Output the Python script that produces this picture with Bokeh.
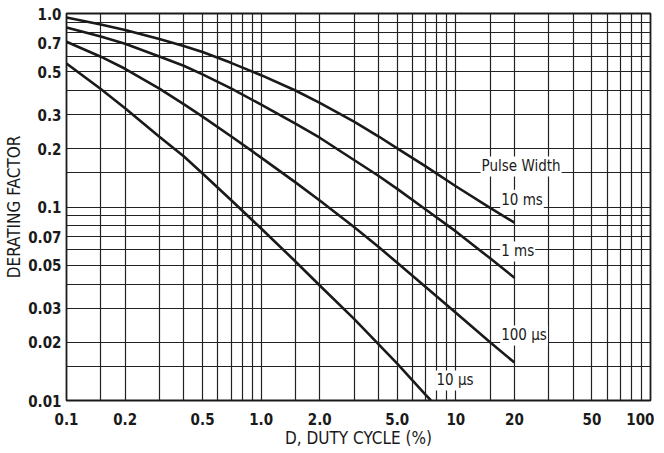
from bokeh.plotting import figure
from bokeh.models import FixedTicker, CustomJSTickFormatter, Label
from bokeh.embed import file_html
from bokeh.resources import INLINE

# ---- data ----
x_tick_values = [0.1, 0.2, 0.5, 1.0, 2.0, 5.0, 10, 20, 50, 100]
x_tick_labels = ["0.1", "0.2", "0.5", "1.0", "2.0", "5.0", "10", "20", "50", "100"]
y_tick_values = [1.0, 0.7, 0.5, 0.3, 0.2, 0.1, 0.07, 0.05, 0.03, 0.02, 0.01]
y_tick_labels = ["1.0", "0.7", "0.5", "0.3", "0.2", "0.1", "0.07", "0.05", "0.03", "0.02", "0.01"]
grid_mantissas = [1, 1.5, 2, 3, 4, 5, 6, 7, 8, 9]
x_decades = [0.1, 1, 10]
y_decades = [0.01, 0.1]

duty = [0.1, 0.15, 0.2, 0.3, 0.4, 0.5, 0.7, 1.0, 1.5, 2, 3, 4, 5, 7, 10, 15, 20]
y_10ms = [0.953, 0.878, 0.822, 0.738, 0.680, 0.632, 0.556, 0.480, 0.400, 0.345, 0.276, 0.232, 0.201, 0.162, 0.128, 0.099, 0.083]
y_1ms = [0.847, 0.760, 0.697, 0.600, 0.537, 0.485, 0.410, 0.338, 0.270, 0.228, 0.175, 0.145, 0.124, 0.097, 0.0748, 0.0543, 0.0431]
y_100us = [0.714, 0.598, 0.518, 0.409, 0.340, 0.293, 0.232, 0.180, 0.134, 0.108, 0.0788, 0.0623, 0.0515, 0.0386, 0.0284, 0.0200, 0.0157]

x_10us = [0.1, 0.15, 0.2, 0.3, 0.4, 0.5, 0.7, 1.0, 1.5, 2, 3, 5, 7, 7.45]
y_10us = [0.552, 0.407, 0.324, 0.231, 0.183, 0.149, 0.1086, 0.0774, 0.0523, 0.0393, 0.0264, 0.0155, 0.0107, 0.0100]

series = [(duty, y_10ms), (duty, y_1ms), (duty, y_100us), (x_10us, y_10us)]

label_texts = ["Pulse Width", "10 ms", "1 ms", "100 \u03bcs", "10 \u03bcs"]
label_x = [13.4, 16.9, 16.9, 16.9, 7.86]
label_y = [0.162, 0.109, 0.0589, 0.0217, 0.0127]

# ---- figure ----
FONT = "DejaVu Sans Condensed"
INK = "#1a1a1a"

p = figure(width=654, height=450, x_axis_type="log", y_axis_type="log",
           x_range=(0.1, 100), y_range=(0.01, 1.0),
           output_backend="svg", toolbar_location=None,
           min_border_left=66, min_border_right=4,
           min_border_top=13, min_border_bottom=50)
p.background_fill_color = "white"
p.border_fill_color = "white"
p.outline_line_color = INK
p.outline_line_width = 1.8

x_grid = [m * d for d in x_decades for m in grid_mantissas] + [100]
y_grid = [m * d for d in y_decades for m in grid_mantissas] + [1.0]

p.xgrid.ticker = FixedTicker(ticks=x_grid)
p.ygrid.ticker = FixedTicker(ticks=y_grid)
for g in (p.xgrid, p.ygrid):
    g.grid_line_color = "#222222"
    g.grid_line_width = 1.2
    g.grid_line_alpha = 1.0

fmt_code = """
let best = 0, bd = 1e9;
for (let i = 0; i < vals.length; i++) {
  const d = Math.abs(Math.log(vals[i]) - Math.log(tick));
  if (d < bd) { bd = d; best = i; }
}
return bd < 1e-6 ? labs[best] : "";
"""
p.xaxis.ticker = FixedTicker(ticks=x_tick_values, minor_ticks=[])
p.yaxis.ticker = FixedTicker(ticks=y_tick_values, minor_ticks=[])
p.xaxis.formatter = CustomJSTickFormatter(args=dict(vals=x_tick_values, labs=x_tick_labels), code=fmt_code)
p.yaxis.formatter = CustomJSTickFormatter(args=dict(vals=y_tick_values, labs=y_tick_labels), code=fmt_code)

for ax in (p.xaxis, p.yaxis):
    ax.axis_line_color = None
    ax.major_tick_line_color = None
    ax.minor_tick_line_color = None
    ax.major_tick_out = 0
    ax.major_tick_in = 0
    ax.major_label_text_font = FONT
    ax.major_label_text_font_size = "15px"
    ax.major_label_text_font_style = "bold"
    ax.major_label_text_color = INK
    ax.axis_label_text_font = FONT
    ax.axis_label_text_font_style = "normal"
    ax.axis_label_text_color = INK
    ax.axis_label_text_font_size = "17px"

p.xaxis.axis_label = "D, DUTY CYCLE (%)"
p.yaxis.axis_label = "DERATING FACTOR"
p.xaxis.major_label_standoff = 12
p.yaxis.major_label_standoff = 5
p.xaxis.axis_label_standoff = 0
p.yaxis.axis_label_standoff = 1

for xs, ys in series:
    p.line(xs, ys, line_color=INK, line_width=2.6)

for t, lx, ly in zip(label_texts, label_x, label_y):
    p.add_layout(Label(x=lx, y=ly, text=t, text_font=FONT, text_font_size="15px",
                       text_color=INK, text_baseline="middle", text_align="left",
                       background_fill_color="white", background_fill_alpha=1.0,
                       padding=1))

open("out.html", "w").write(file_html(p, INLINE))
